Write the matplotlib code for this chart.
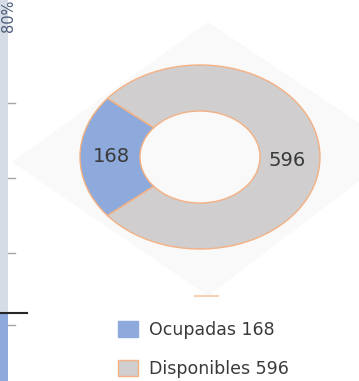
import matplotlib
matplotlib.use("Agg")
import matplotlib.pyplot as plt
from matplotlib.patches import Polygon, Rectangle

# seat occupancy
labels = ["Ocupadas", "Disponibles"]
values = [168, 596]
colors = ["#8EA9DB", "#D0CECE"]
edge = "#F4B183"
text_color = "#3A3A3A"

W, H = 359, 381
fig = plt.figure(figsize=(W / 100, H / 100), dpi=100)

# background layer in pixel coordinates
bg = fig.add_axes([0, 0, 1, 1])
bg.set_xlim(0, W)
bg.set_ylim(H, 0)
bg.axis("off")

# faint diamond panel behind the ring
bg.add_patch(Polygon([(208, 22), (400, 150), (208, 296), (12, 162)],
                     closed=True, facecolor="#F9F9F9", edgecolor="none"))
bg.plot([195, 218], [296, 296], color=edge, lw=1.5, alpha=0.6)

# neighbouring chart cut off at the left edge
bg.add_patch(Rectangle((0, 0), 8, 313, facecolor="#D6DCE5", edgecolor="none"))
bg.add_patch(Rectangle((0, 313), 8, 68, facecolor="#8EA9DB", edgecolor="none"))
for ty in [103, 178, 253, 325]:
    bg.plot([8, 15], [ty, ty], color="#A6A6A6", lw=1)
bg.plot([0, 27], [313, 313], color="#262626", lw=1.5)
bg.text(8, 16, "80%", rotation=90, ha="center", va="center",
        fontsize=10.5, color="#4A5A78")

# donut, stretched into an ellipse
cx, cy, rx, ry = 200, 157, 120, 92
ax = fig.add_axes([(cx - rx) / W, (H - cy - ry) / H, 2 * rx / W, 2 * ry / H])
share = values[0] / sum(values) * 360
wedges, _ = ax.pie(values, colors=colors, startangle=180 - share / 2,
                   counterclock=True, radius=1,
                   wedgeprops=dict(width=0.5, edgecolor=edge, linewidth=1))
ax.set_aspect("auto")
ax.set_xlim(-1, 1)
ax.set_ylim(-1, 1)
ax.axis("off")
ax.patch.set_alpha(0)

ax.text(-0.74, 0.0, str(values[0]), ha="center", va="center",
        fontsize=14, color=text_color)
ax.text(0.73, -0.04, str(values[1]), ha="center", va="center",
        fontsize=14, color=text_color)

# legend
for i, (lab, val, col) in enumerate(zip(labels, values, colors)):
    y = 329 + i * 39
    bg.add_patch(Rectangle((118, y - 8), 20, 16, facecolor=col,
                           edgecolor=edge if i == 1 else col, lw=1))
    bg.text(149, y + 1, f"{lab} {val}", ha="left", va="center",
            fontsize=12.5, color=text_color)

fig.savefig("out.png", dpi=100)
